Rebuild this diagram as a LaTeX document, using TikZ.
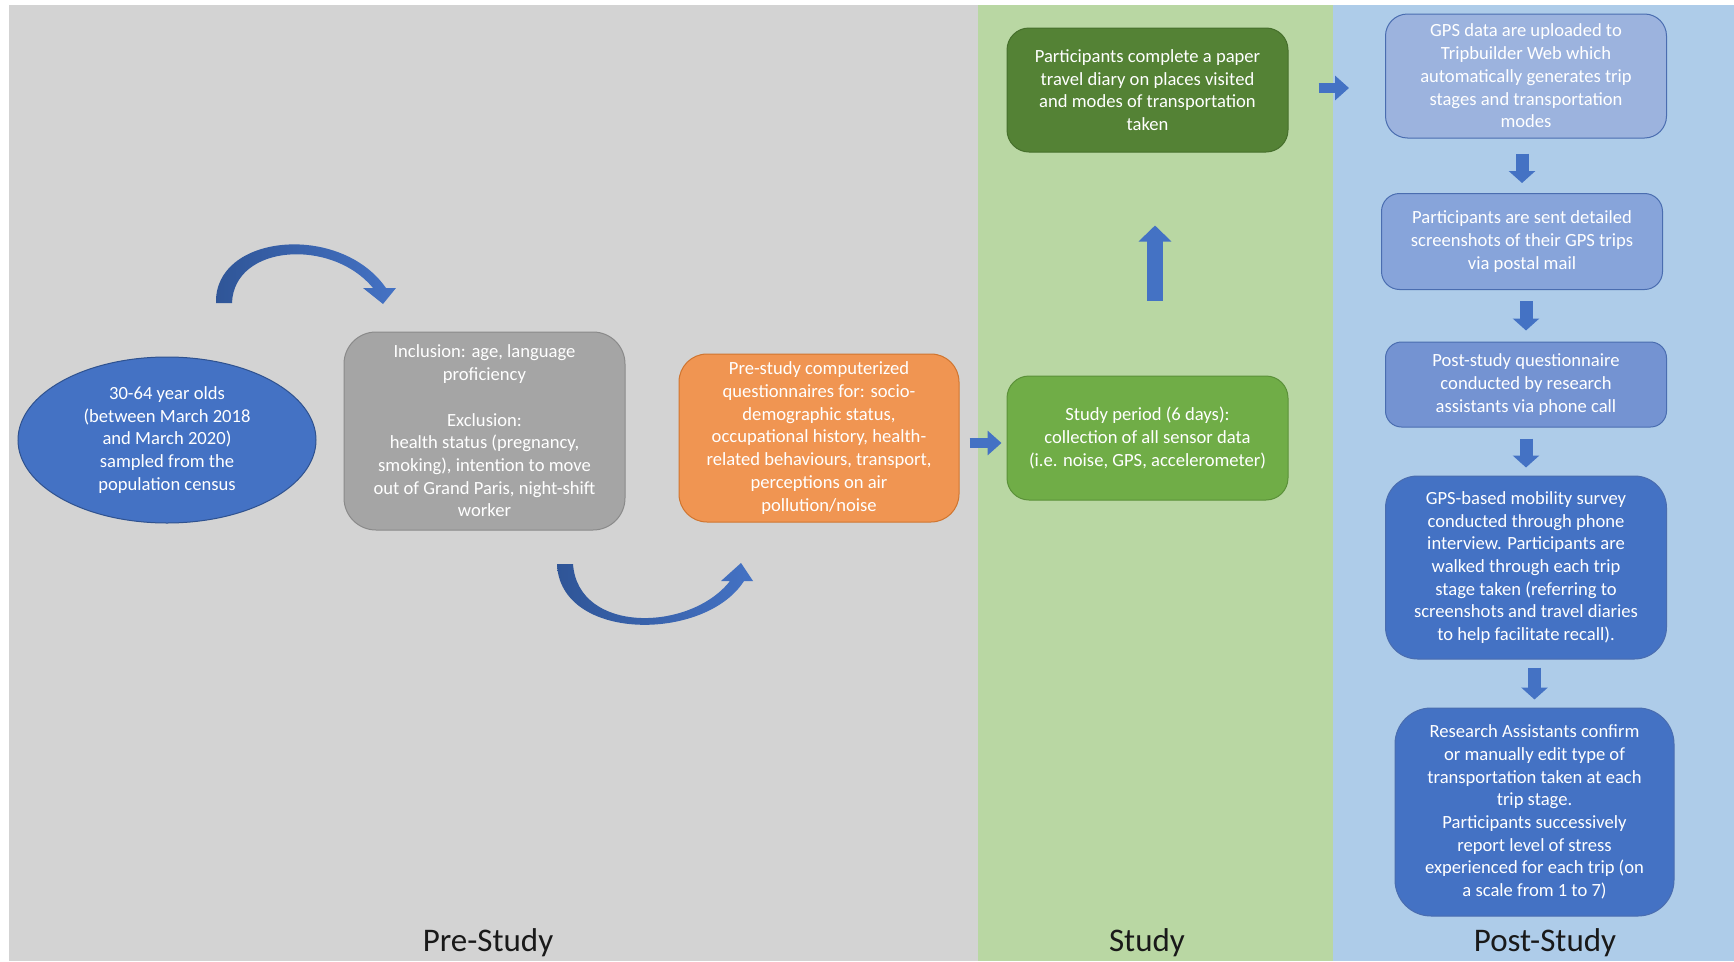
\documentclass[tikz,border=0pt]{standalone}
\usepackage{fontspec}
\setmainfont{Carlito}
\usepackage{tikz}
\usetikzlibrary{arrows.meta,shapes.geometric}
\definecolor{pregray}{HTML}{D3D3D3}
\definecolor{studygreen}{HTML}{B9D7A3}
\definecolor{postblue}{HTML}{AECCE9}
\definecolor{officeblue}{HTML}{4472C4}
\definecolor{officeblueline}{HTML}{2F528F}
\definecolor{darkcurve}{HTML}{2F5597}
\definecolor{boxgray}{HTML}{A5A5A5}
\definecolor{boxgrayline}{HTML}{8A8A8A}
\definecolor{boxorange}{HTML}{F09552}
\definecolor{boxorangeline}{HTML}{D0752F}
\definecolor{dgreen}{HTML}{548235}
\definecolor{dgreenline}{HTML}{466F2C}
\definecolor{lgreen}{HTML}{70AD47}
\definecolor{lgreenline}{HTML}{5B9139}
\definecolor{blueA}{HTML}{9CB3DE}
\definecolor{blueB}{HTML}{87A4DA}
\definecolor{blueC}{HTML}{7493D2}
\definecolor{bluebox}{HTML}{4472C4}
\definecolor{blueline}{HTML}{4A6DB0}

\begin{document}
\begin{tikzpicture}[x=1pt,y=-1pt,
		stagebox/.style={rectangle,draw,line width=1pt,inner sep=0pt,text=white,align=center,font=\fontsize{18.6}{22.7}\selectfont},
		flowarrow/.style={draw=officeblue,line width=13pt,-{Triangle[length=12pt,width=26pt]}},
		phase/.style={anchor=base,text=black!90,font=\fontsize{33}{40}\selectfont}]
		\useasboundingbox (0,0) rectangle (1734,961);
		\fill[white] (0,0) rectangle (1734,961);
		\fill[pregray] (9,5) rectangle (978,961);
		\fill[studygreen] (978,5) rectangle (1333,961);
		\fill[postblue] (1333,5) rectangle (1734,961);

		\node[ellipse,draw=officeblueline,fill=officeblue,line width=1pt,minimum width=298pt,minimum height=166pt,inner sep=0pt,text=white,align=center,font=\fontsize{18.6}{22.7}\selectfont] (census) at (167,440) {30-64 year olds\\(between March 2018\\and March 2020)\\sampled from the\\population census};
		\node[stagebox,fill=boxgray,draw=boxgrayline,minimum width=281pt,minimum height=198pt,rounded corners=32pt] (criteria) at (484.5,431) {Inclusion: age, language\\proficiency\\[22.7pt]Exclusion:\\health status (pregnancy,\\smoking), intention to move\\out of Grand Paris, night-shift\\worker};
		\node[stagebox,fill=boxorange,draw=boxorangeline,minimum width=280pt,minimum height=168pt,rounded corners=28pt] (prequest) at (819,438) {Pre-study computerized\\questionnaires for: socio-\\demographic status,\\occupational history, health-\\related behaviours, transport,\\perceptions on air\\pollution/noise};
		\node[stagebox,fill=dgreen,draw=dgreenline,minimum width=281pt,minimum height=124pt,rounded corners=22pt] (diary) at (1147.5,90) {Participants complete a paper\\travel diary on places visited\\and modes of transportation\\taken};
		\node[stagebox,fill=lgreen,draw=lgreenline,minimum width=281pt,minimum height=124pt,rounded corners=22pt] (period) at (1147.5,438) {Study period (6 days):\\collection of all sensor data\\(i.e. noise, GPS, accelerometer)};
		\node[stagebox,fill=blueA,draw=blueline,minimum width=281pt,minimum height=124pt,rounded corners=22pt] (upload) at (1526,76) {GPS data are uploaded to\\Tripbuilder Web which\\automatically generates trip\\stages and transportation\\modes};
		\node[stagebox,fill=blueB,draw=blueline,minimum width=281pt,minimum height=96pt,rounded corners=18pt] (mail) at (1522,241.5) {Participants are sent detailed\\screenshots of their GPS trips\\via postal mail};
		\node[stagebox,fill=blueC,draw=blueline,minimum width=281pt,minimum height=85pt,rounded corners=16pt] (postquest) at (1526,384.5) {Post-study questionnaire\\conducted by research\\assistants via phone call};
		\node[stagebox,fill=bluebox,draw=blueline,minimum width=281pt,minimum height=183pt,rounded corners=32pt] (survey) at (1526,567.5) {GPS-based mobility survey\\conducted through phone\\interview. Participants are\\walked through each trip\\stage taken (referring to\\screenshots and travel diaries\\to help facilitate recall).};
		\node[stagebox,fill=bluebox,draw=blueline,minimum width=279pt,minimum height=208pt,rounded corners=36pt] (confirm) at (1534.5,812) {Research Assistants confirm\\or manually edit type of\\transportation taken at each\\trip stage.\\Participants successively\\report level of stress\\experienced for each trip (on\\a scale from 1 to 7)};

		\node[phase] (prelabel) at (488,951) {Pre-Study};
		\node[phase] (studylabel) at (1147,951) {Study};
		\node[phase] (postlabel) at (1545,951) {Post-Study};

		\shade[left color=darkcurve,right color=officeblue] (216,303) .. controls (214,234) and (340,222) .. (386,288) -- (396,288) -- (383,304) -- (363,288) -- (373,288) .. controls (332,238) and (234,244) .. (232,303) -- cycle;
		\shade[left color=darkcurve,right color=officeblue] (557,564) -- (573,564) .. controls (578,634) and (690,632) .. (730,581) -- (721,581) -- (741,563) -- (753,581) -- (744,581) .. controls (705,642) and (560,642) .. (557,564) -- cycle;

		\draw[flowarrow,line width=10pt,-{Triangle[length=14pt,width=24pt]},shorten <=10pt,shorten >=5pt] ([yshift=-5pt]prequest.east) -- ([yshift=-5pt]period.west);
		\draw[flowarrow,line width=16pt,-{Triangle[length=16pt,width=32pt]},shorten <=75pt,shorten >=73pt] ([xshift=7.5pt]period.north) -- ([xshift=7.5pt]diary.south);
		\draw[flowarrow,line width=10pt,-{Triangle[length=14pt,width=24pt]},shorten <=30pt,shorten >=36pt] ([yshift=2pt]diary.east) -- ([yshift=2pt]diary.east -| upload.west);
		\draw[flowarrow,shorten <=15pt,shorten >=10pt] (upload.south -| mail.north) -- (mail.north);
		\draw[flowarrow,shorten <=11pt,shorten >=11pt] (mail.south -| postquest.north) -- (postquest.north);
		\draw[flowarrow,shorten <=11pt,shorten >=8pt] (postquest.south) -- (survey.north);
		\draw[flowarrow,shorten <=8pt,shorten >=8pt] (survey.south -| confirm.north) -- (confirm.north);
		\end{tikzpicture}
\end{document}
